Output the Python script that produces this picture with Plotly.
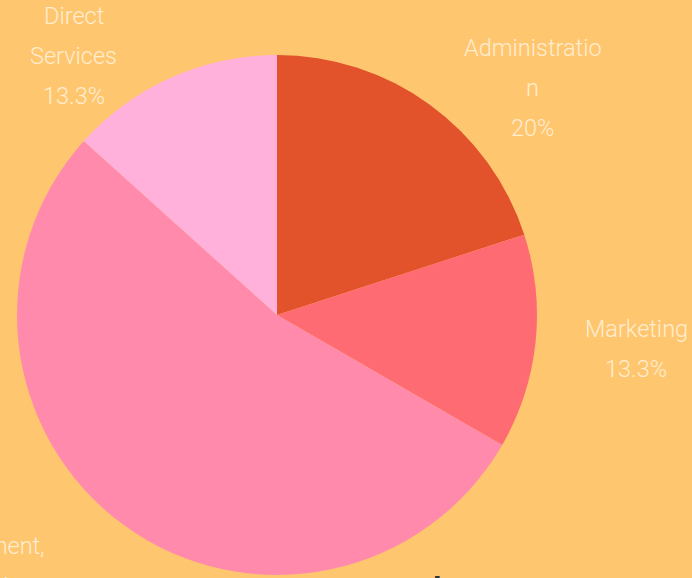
import math
import plotly.graph_objects as go

# ---- data ----
categories = ["Administration", "Marketing", "Management, Fundraising", "Direct Services"]
label_lines = [["Administratio", "n"], ["Marketing"], ["Management,", "Fundraising"], ["Direct", "Services"]]
values = [3, 2, 8, 2]
colors = ["#E2522B", "#FF6B72", "#FF8AAB", "#FFB1DC"]
title_text = "expense summary tool"

BG = "#FFC670"
TXT = "#FFEDD0"
W, H = 692, 578
ML, MR, MT, MB = 17, 155, 55, 3
PW, PH = W - ML - MR, H - MT - MB
CX, CY = ML + PW / 2, MT + PH / 2
R = min(PW, PH) / 2

fig = go.Figure(go.Pie(
    labels=categories, values=values, sort=False, direction="clockwise",
    rotation=0, marker=dict(colors=colors, line=dict(width=0)),
    textinfo="none", hoverinfo="label+percent", showlegend=False,
))

def px2paper(x, y):
    return (x - ML) / PW, (H - MB - y) / PH

# label placement derived from slice mid-angles (plus small layout nudges)
total = sum(values)
nudges = {0: (4, -5), 1: (-4, 5), 2: (-51, 48.5), 3: (-1.5, -8)}
annotations = []
cum = 0
LINE = 40
for i, v in enumerate(values):
    mid = (cum + v / 2) / total * 2 * math.pi
    cum += v
    ax = CX + (R + 15) * math.sin(mid)
    ay = CY - (R + 15) * math.cos(mid)
    side = 1 if math.sin(mid) >= 0 else -1
    lx = ax + side * (15 + 75)
    ly = ay
    dx, dy = nudges.get(i, (0, 0))
    lx += dx
    ly += dy
    pct = v / total * 100
    pct_s = f"{pct:.1f}".rstrip("0").rstrip(".") + "%"
    lines = label_lines[i] + [pct_s]
    n = len(lines)
    for k, t in enumerate(lines):
        yy = ly + (k - (n - 1) / 2) * LINE
        px, py = px2paper(lx, yy)
        annotations.append(dict(
            x=px, y=py, xref="paper", yref="paper", text=t, showarrow=False,
            xanchor="center", yanchor="middle",
            font=dict(family="Roboto", size=23.5, color=TXT, weight=300),
        ))

tx, ty = px2paper(443, 567)
annotations.append(dict(
    x=tx, y=ty, xref="paper", yref="paper", text=title_text, showarrow=False,
    xanchor="right", yanchor="top",
    font=dict(family="Roboto", size=32, color="#333333", weight=700),
))

fig.update_layout(
    width=W, height=H, autosize=False,
    margin=dict(l=ML, r=MR, t=MT, b=MB, pad=0),
    paper_bgcolor=BG, plot_bgcolor=BG,
    annotations=annotations,
)

fig.write_html("out.html", include_plotlyjs=True, full_html=True,
               config={"displayModeBar": False})
